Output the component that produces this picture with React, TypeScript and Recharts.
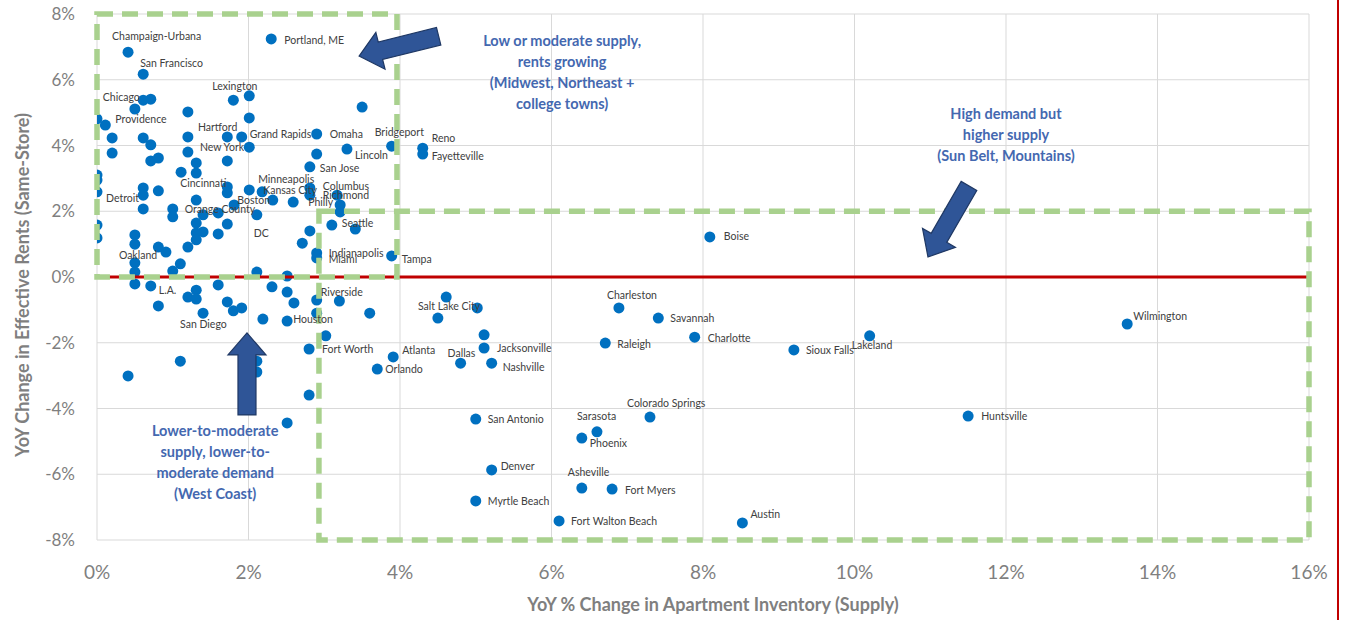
import React from 'react';
import {
  ScatterChart,
  Scatter,
  XAxis,
  YAxis,
  CartesianGrid,
  ReferenceLine,
  ReferenceArea,
  ReferenceDot,
  Label,
} from 'recharts';

// ---------- data ----------
const cities: string[] = [
  'Champaign-Urbana', 'San Francisco', 'Portland, ME', 'Lexington', 'Chicago', 'Providence',
  'Hartford', 'Grand Rapids', 'Omaha', 'Bridgeport', 'Reno', 'Fayetteville', 'New York',
  'Lincoln', 'San Jose', 'Cincinnati', 'Detroit', 'Minneapolis', 'Kansas City', 'Boston',
  'Orange County', 'Philly', 'Columbus', 'Richmond', 'DC', 'Seattle', 'Indianapolis', 'Miami',
  'Tampa', 'Oakland', 'L.A.', 'San Diego', 'Houston', 'Riverside', 'Fort Worth', 'Atlanta',
  'Orlando', 'Salt Lake City', 'Jacksonville', 'Dallas', 'Nashville', 'Charleston', 'Savannah',
  'Raleigh', 'Charlotte', 'Sioux Falls', 'Boise', 'Wilmington', 'Lakeland', 'Huntsville',
  'San Antonio', 'Colorado Springs', 'Sarasota', 'Phoenix', 'Denver', 'Asheville', 'Fort Myers',
  'Myrtle Beach', 'Fort Walton Beach', 'Austin',
];
const supplyGrowth: number[] = [
  0.41, 0.61, 2.30, 1.80, 0.71, 0.11,
  1.20, 1.91, 2.90, 3.89, 4.30, 4.30, 1.20,
  3.30, 2.81, 1.31, 0.00, 2.18, 2.01, 1.72,
  1.00, 2.59, 2.81, 2.81, 2.11, 3.10, 2.90, 2.90,
  3.89, 0.50, 0.71, 1.40, 2.51, 2.90, 2.80, 3.91,
  3.70, 4.50, 5.11, 4.80, 5.21, 6.89, 7.41,
  6.71, 7.89, 9.20, 8.09, 13.60, 10.20, 11.50,
  5.00, 7.30, 6.60, 6.40, 5.21, 6.40, 6.80,
  5.00, 6.10, 8.52,
];
const rentGrowth: number[] = [
  6.84, 6.17, 7.24, 5.38, 5.41, 4.62,
  4.26, 4.26, 4.35, 3.98, 3.92, 3.74, 3.80,
  3.89, 3.35, 2.34, 2.59, 2.59, 2.65, 2.56,
  2.07, 2.28, 2.71, 2.49, 1.89, 1.58, 0.73, 0.58,
  0.64, 0.43, -0.27, -1.10, -1.34, -0.70, -2.19, -2.43,
  -2.80, -1.25, -2.16, -2.62, -2.62, -0.94, -1.25,
  -2.01, -1.83, -2.22, 1.22, -1.43, -1.79, -4.23,
  -4.32, -4.26, -4.71, -4.90, -5.87, -6.42, -6.45,
  -6.81, -7.42, -7.48,
];
// markets shown without a label
const otherSupply: number[] = [
  2.01, 0.50, 0.61, 1.20, 3.50, 0.00, 2.01, 0.20, 0.61, 0.71, 1.72, 2.01, 0.20, 0.71,
  0.81, 1.31, 1.72, 1.31, 1.11, 2.90, 0.00, 0.00, 0.61, 0.61, 0.81, 1.72, 0.61, 1.00,
  2.32, 3.17, 3.21, 3.21, 1.81, 1.60, 1.40, 1.31, 1.72, 1.40, 1.31, 1.60, 1.31, 1.20,
  0.50, 0.50, 0.81, 0.91, 1.10, 1.00, 2.81, 2.71, 3.41, 0.00, 0.00, 0.50, 2.11, 2.51,
  0.50, 0.81, 1.20, 1.31, 1.31, 1.60, 1.72, 1.80, 1.91, 2.31, 2.51, 2.60, 2.19, 2.90,
  3.20, 3.60, 3.02, 1.10, 0.41, 2.11, 2.11, 2.80, 2.51, 4.61, 5.02, 5.11,
];
const otherRents: number[] = [
  5.51, 5.11, 5.38, 5.02, 5.17, 4.81, 4.84, 4.23, 4.23, 4.02, 4.26, 3.95, 3.77, 3.53,
  3.62, 3.47, 3.53, 3.16, 3.19, 3.74, 3.10, 2.95, 2.71, 2.49, 2.62, 2.74, 2.07, 1.83,
  2.34, 2.49, 2.19, 1.98, 2.19, 1.95, 1.89, 1.64, 1.61, 1.37, 1.34, 1.31, 1.13, 0.91,
  1.28, 1.00, 0.91, 0.76, 0.40, 0.18, 1.40, 1.03, 1.46, 1.58, 1.19, 0.15, 0.15, 0.03,
  -0.21, -0.88, -0.61, -0.40, -0.67, -0.24, -0.76, -1.03, -0.94, -0.30, -0.46, -0.79, -1.28, -1.10,
  -0.73, -1.10, -1.79, -2.56, -3.01, -2.56, -2.89, -3.59, -4.44, -0.61, -0.94, -1.76,
];

const xTicks = [0, 2, 4, 6, 8, 10, 12, 14, 16];
const yTicks = [-8, -6, -4, -2, 0, 2, 4, 6, 8];
const xAxisTitle = 'YoY % Change in Apartment Inventory (Supply)';
const yAxisTitle = 'YoY Change in Effective Rents (Same-Store)';

const lowSupplyZone = { x1: 0, x2: 3.96, y1: 0, y2: 8 };
const highSupplyZone = { x1: 2.93, x2: 16, y1: -8, y2: 2 };

const annotationTexts: { lines: string[]; x: number; y: number }[] = [
  { lines: ['Low or moderate supply,', 'rents growing', '(Midwest, Northeast +', 'college towns)'], x: 6.14, y: 6.25 },
  { lines: ['High demand but', 'higher supply', '(Sun Belt, Mountains)'], x: 12.0, y: 4.32 },
  { lines: ['Lower-to-moderate', 'supply, lower-to-', 'moderate demand', '(West Coast)'], x: 1.56, y: -5.63 },
];
// arrow tips in data space, angle = pointing direction (deg, screen space)
const arrowTips: { x: number; y: number; angle: number }[] = [
  { x: 3.46, y: 6.72, angle: 166 },
  { x: 1.98, y: -1.7, angle: -90 },
  { x: 10.97, y: 0.61, angle: 120 },
];

// ---------- layout / style ----------
const labelOffsets: Record<string, [number, number, string?]> = {
  'Champaign-Urbana': [-16, -16], 'San Francisco': [-3, -11], 'Portland, ME': [13, 1],
  Lexington: [-21, -14], Chicago: [-11, -2, 'end'], Providence: [10, -6], Hartford: [10, -10],
  'Grand Rapids': [8, -3], Omaha: [13, 0], Bridgeport: [-17, -14], Reno: [9, -10],
  Fayetteville: [9, 2], 'New York': [12, -5], Lincoln: [8, 6], 'San Jose': [10, 1],
  Cincinnati: [-16, -17], Detroit: [9, 6], Minneapolis: [-4, -13], 'Kansas City': [14, 0],
  Boston: [10, 7], 'Orange County': [12, 0], Philly: [15, 0], Columbus: [13, -2],
  Richmond: [13, 0], DC: [-3, 18], Seattle: [10, -2], Indianapolis: [12, 0], Miami: [12, 1],
  Tampa: [10, 3], Oakland: [-16, -8], 'L.A.': [8, 4], 'San Diego': [-23, 11], Houston: [6, -2],
  Riverside: [4, -8], 'Fort Worth': [13, 0], Atlanta: [9, -7], Orlando: [8, 0],
  'Salt Lake City': [-20, -12], Jacksonville: [13, 0], Dallas: [-13, -10], Nashville: [11, 4],
  Charleston: [-12, -13], Savannah: [12, 0], Raleigh: [12, 1], Charlotte: [13, 1],
  'Sioux Falls': [12, 0], Boise: [14, -1], Wilmington: [6, -8], Lakeland: [-18, 9],
  Huntsville: [13, 0], 'San Antonio': [12, 0], 'Colorado Springs': [-23, -14],
  Sarasota: [-20, -16], Phoenix: [8, 5], Denver: [9, -4], Asheville: [-14, -16],
  'Fort Myers': [13, 1], 'Myrtle Beach': [12, 0], 'Fort Walton Beach': [12, 0], Austin: [8, -9],
};

const DOT = '#0070c0';
const GREEN = '#a9d18e';
const RED = '#c00000';
const ANNOT = '#4468b0';
const AXIS_TEXT = '#7f7f7f';

const labeledData = cities.map((name, i) => ({ name, x: supplyGrowth[i], y: rentGrowth[i] }));
const otherData = otherSupply.map((x, i) => ({ name: '', x, y: otherRents[i] }));
const allData = [...labeledData, ...otherData];

const Dot = (p: any) => <circle cx={p.cx} cy={p.cy} r={5.5} fill={DOT} />;

const CityLabel = (p: any) => {
  const name = p.payload?.name;
  if (!name) return <g />;
  const off = labelOffsets[name] || [9, 0];
  return (
    <text
      x={p.cx + off[0]}
      y={p.cy + off[1]}
      textAnchor={off[2] || 'start'}
      dominantBaseline="central"
      fontSize={10.5}
      fill="#404040"
    >
      {name}
    </text>
  );
};

const arrowShape = (angle: number) => (p: any) => {
  const L = 82, sw = 18, hw = 38, hl = 22;
  const pts = [
    [0, 0], [-hl, hw / 2], [-hl, sw / 2], [-L, sw / 2], [-L, -sw / 2], [-hl, -sw / 2], [-hl, -hw / 2],
  ].map((q) => q.join(',')).join(' ');
  return (
    <g transform={`translate(${p.cx},${p.cy}) rotate(${angle})`}>
      <polygon points={pts} fill="#2f5597" stroke="#1f3864" strokeWidth={1.2} strokeLinejoin="miter" />
    </g>
  );
};

const textShape = (lines: string[]) => (p: any) => {
  const lh = 21;
  const y0 = p.cy - ((lines.length - 1) / 2) * lh;
  return (
    <text textAnchor="middle" fontSize={14.5} fontWeight={700} fill={ANNOT}>
      {lines.map((l, i) => (
        <tspan key={i} x={p.cx} y={y0 + i * lh} dominantBaseline="central">
          {l}
        </tspan>
      ))}
    </text>
  );
};

export default function App() {
  return (
    <div style={{ position: 'relative', width: 1345, height: 620, overflow: 'hidden', fontFamily: 'Lato, "Open Sans", sans-serif' }}>
      <style>{'body{margin:0;overflow:hidden;}'}</style>
      <ScatterChart width={1345} height={620} margin={{ top: 14, right: 36, bottom: 0, left: 0 }}>
        <CartesianGrid stroke="#d9d9d9" strokeWidth={1} />
        <XAxis
          type="number"
          dataKey="x"
          domain={[0, 16]}
          ticks={xTicks}
          allowDataOverflow
          tickFormatter={(v: number) => `${v}%`}
          axisLine={false}
          tickLine={false}
          tickSize={0}
          tickMargin={26}
          height={80}
          tick={{ fill: AXIS_TEXT, fontSize: 19 }}
        >
          <Label
            content={(props: any) => {
              const vb = props.viewBox || {};
              return (
                <text
                  x={vb.x + vb.width / 2 + 10}
                  y={vb.y + 64}
                  textAnchor="middle"
                  dominantBaseline="central"
                  fontSize={18}
                  fontWeight={700}
                  fill={AXIS_TEXT}
                >
                  {xAxisTitle}
                </text>
              );
            }}
          />
        </XAxis>
        <YAxis
          type="number"
          dataKey="y"
          domain={[-8, 8]}
          ticks={yTicks}
          allowDataOverflow
          tickFormatter={(v: number) => `${v}%`}
          axisLine={false}
          tickLine={false}
          tickSize={0}
          tickMargin={22}
          width={97}
          tick={{ fill: AXIS_TEXT, fontSize: 17 }}
        >
          <Label
            content={(props: any) => {
              const vb = props.viewBox || {};
              const cx = 22;
              const cy = vb.y + vb.height / 2 + 8;
              return (
                <text
                  x={cx}
                  y={cy}
                  transform={`rotate(-90, ${cx}, ${cy})`}
                  textAnchor="middle"
                  dominantBaseline="central"
                  fontSize={18}
                  fontWeight={700}
                  fill={AXIS_TEXT}
                >
                  {yAxisTitle}
                </text>
              );
            }}
          />
        </YAxis>
        <Scatter data={allData} shape={Dot} isAnimationActive={false} />
        <ReferenceLine y={0} stroke={RED} strokeWidth={3} zIndex={650} />
        <ReferenceArea
          x1={lowSupplyZone.x1}
          x2={lowSupplyZone.x2}
          y1={lowSupplyZone.y1}
          y2={lowSupplyZone.y2}
          fill="none"
          fillOpacity={0}
          stroke={GREEN}
          strokeWidth={5.5}
          strokeDasharray="16 9"
          ifOverflow="visible"
          zIndex={700}
        />
        <ReferenceArea
          x1={highSupplyZone.x1}
          x2={highSupplyZone.x2}
          y1={highSupplyZone.y1}
          y2={highSupplyZone.y2}
          fill="none"
          fillOpacity={0}
          stroke={GREEN}
          strokeWidth={5.5}
          strokeDasharray="16 9"
          ifOverflow="visible"
          zIndex={700}
        />
        <Scatter data={labeledData} shape={CityLabel} isAnimationActive={false} zIndex={800} />
        {arrowTips.map((a, i) => (
          <ReferenceDot key={`a${i}`} x={a.x} y={a.y} r={0} shape={arrowShape(a.angle)} zIndex={900} ifOverflow="visible" />
        ))}
        {annotationTexts.map((t, i) => (
          <ReferenceDot key={`t${i}`} x={t.x} y={t.y} r={0} shape={textShape(t.lines)} zIndex={900} ifOverflow="visible" />
        ))}
      </ScatterChart>
      <div style={{ position: 'absolute', left: 1337, top: 0, width: 2, height: 620, background: RED }} />
    </div>
  );
}
